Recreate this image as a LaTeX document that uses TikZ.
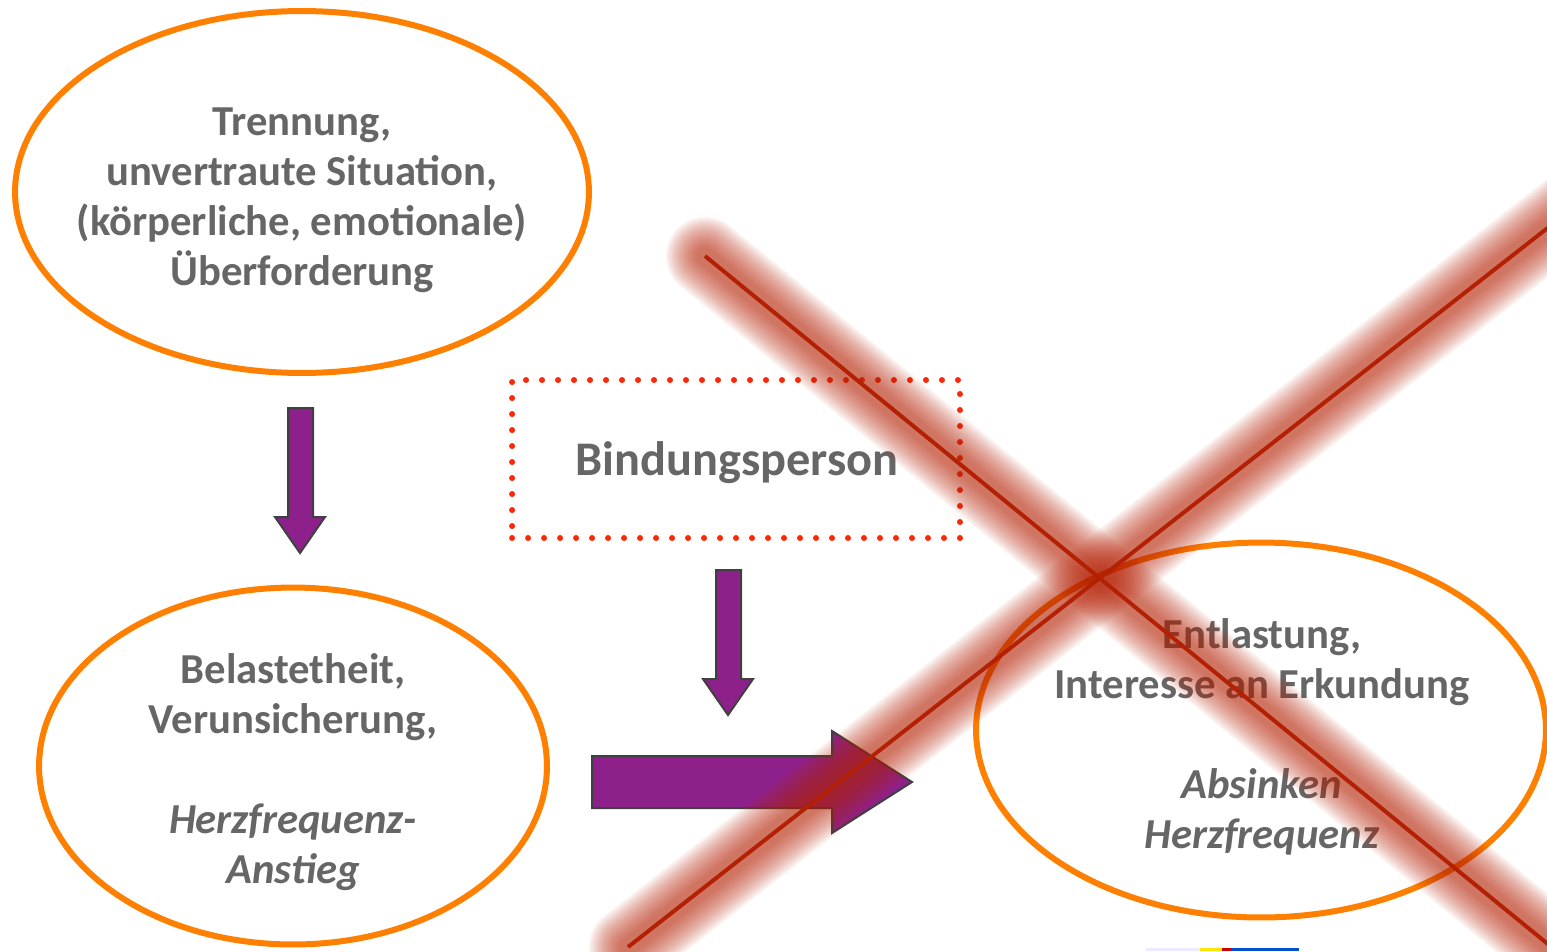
\documentclass[tikz,border=0pt]{standalone}
\usepackage{fontspec}
\setmainfont{Carlito}
\usetikzlibrary{shapes.geometric}
\definecolor{ringorange}{RGB}{255,128,0}
\definecolor{arrowpurple}{RGB}{142,32,140}
\definecolor{arrowedge}{RGB}{64,64,64}
\definecolor{dotred}{RGB}{250,40,8}
\definecolor{crossred}{RGB}{180,32,4}
\definecolor{txtgray}{RGB}{102,102,102}
\tikzset{
  ring/.style={ellipse, draw=ringorange, line width=0.12cm, inner sep=0pt},
  ringtext/.style={align=center, text=txtgray, inner sep=0pt,
    font=\fontsize{24.3}{28.45}\selectfont\bfseries},
  dotbox/.style={draw=dotred, line width=0.12cm, line cap=round,
    dash pattern=on 0pt off 0.32cm, inner sep=0pt, text=txtgray,
    font=\fontsize{27.5}{34}\selectfont\bfseries},
  blockarrow/.style={fill=arrowpurple, draw=arrowedge, line width=0.04cm, line join=miter},
  crossline/.style={draw=crossred, line width=0.08cm},
}
\begin{document}
\begin{tikzpicture}[x=0.02cm, y=-0.02cm]
  \useasboundingbox (0,0) rectangle (1547,951);

  % Ellipses
  \node[ring, minimum width=11.48cm, minimum height=7.24cm] (trennung) at (302,192) {};
  \node[ringtext] (trennungtext) at (302,200)
    {Trennung,\\ unvertraute Situation,\\ (körperliche, emotionale)\\ Überforderung};
  \node[ring, minimum width=10.16cm, minimum height=7.14cm] (belastet) at (293,766) {};
  \node[ringtext] (belastettext) at (293,772)
    {Belastetheit,\\ Verunsicherung,\\[1cm] \textit{Herzfrequenz-}\\ \textit{Anstieg}};
  \node[ring, minimum width=11.40cm, minimum height=7.50cm] (entlastung) at (1261,730) {};
  \node[ringtext] (entlastungtext) at (1262,737)
    {Entlastung,\\ Interesse an Erkundung\\[1cm] \textit{Absinken}\\ \textit{Herzfrequenz}};

  % Dotted box
  \node[dotbox, minimum width=8.96cm, minimum height=3.16cm] (bindung) at (736,459) {};
  \node[text=txtgray, font=\fontsize{27.5}{34}\selectfont\bfseries] (bindungtext) at (737,463) {Bindungsperson};

  % Block arrows
  \draw[blockarrow] (288,408) -- (313,408) -- (313,517) -- (325,517) -- (300,553)
    -- (275,517) -- (288,517) -- cycle;
  \draw[blockarrow] (716,570) -- (741,570) -- (741,679) -- (753,679) -- (728,715)
    -- (703,679) -- (716,679) -- cycle;
  \draw[blockarrow] (592,756) -- (832,756) -- (832,731) -- (912,782) -- (832,833)
    -- (832,808) -- (592,808) -- cycle;

  % Logo fragment
  \fill[blue!8] (1146,948) rectangle (1200,951);
  \fill[yellow!90!orange] (1200,948) rectangle (1222,951);
  \fill[red!80!black] (1222,948) rectangle (1231,951);
  \fill[blue!60!cyan!80!black] (1231,948) rectangle (1299,951);

  % Cross
  \begin{scope}
    \clip (0,0) rectangle (1547,951);
    \coordinate (xa) at (705,256);
    \coordinate (xb) at (1565,958);
    \coordinate (xc) at (628,947);
    \coordinate (xd) at (1600,187);
    \foreach \w in {78,74,...,18} {
      \draw[crossred, opacity=0.06, line width=\w*0.02cm, line cap=round] (xa) -- (xb);
      \draw[crossred, opacity=0.06, line width=\w*0.02cm, line cap=round] (xc) -- (xd);
    }
    \draw[crossline] (xa) -- (xb);
    \draw[crossline] (xc) -- (xd);
  \end{scope}
\end{tikzpicture}
\end{document}
